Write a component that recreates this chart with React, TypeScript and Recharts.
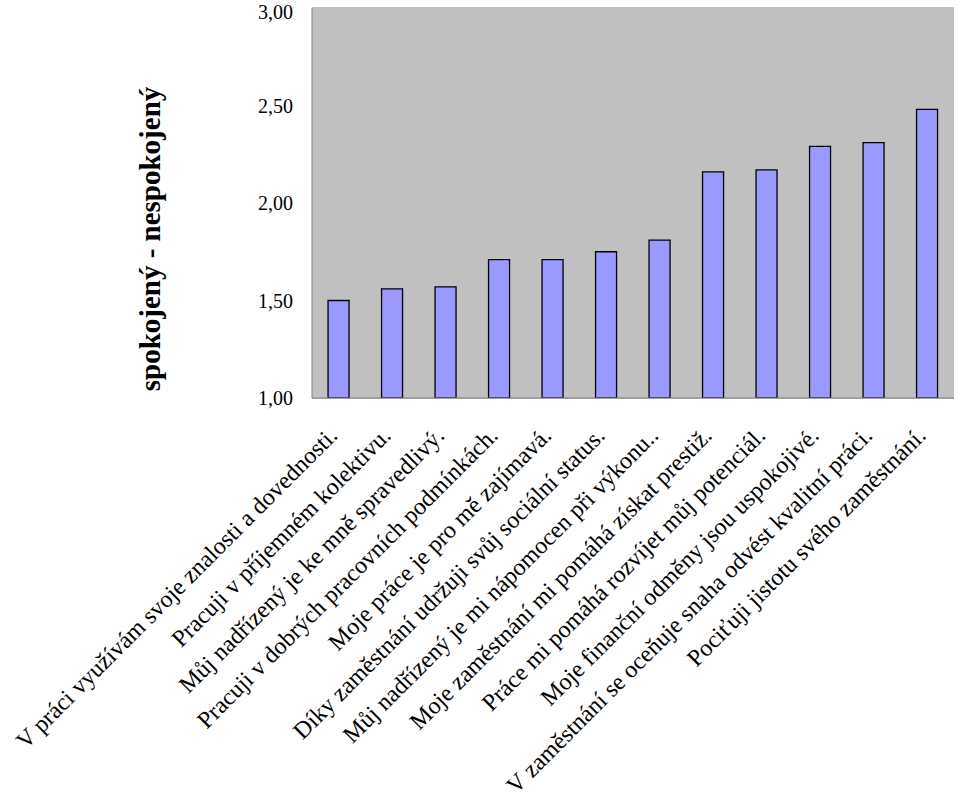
import React from "react";
import { BarChart, Bar, XAxis, YAxis, CartesianGrid } from "recharts";

const statements = [
    "V práci využívám svoje znalosti a dovednosti.",
    "Pracuji v příjemném kolektivu.",
    "Můj nadřízený je ke mně spravedlivý.",
    "Pracuji v dobrých pracovních podmínkách.",
    "Moje práce je pro mě zajímavá.",
    "Díky zaměstnání udržuji svůj sociální status.",
    "Můj nadřízený je mi nápomocen při výkonu..",
    "Moje zaměstnání mi pomáhá získat prestiž.",
    "Práce mi pomáhá rozvíjet můj potenciál.",
    "Moje finanční odměny jsou uspokojivé.",
    "V zaměstnání se oceňuje snaha odvést kvalitní práci.",
    "Pociťuji jistotu svého zaměstnání.",
];

const scores = [1.5, 1.56, 1.57, 1.71, 1.71, 1.75, 1.81, 2.16, 2.17, 2.29, 2.31, 2.48];

const yTicks = [1, 1.5, 2, 2.5, 3];

const data = statements.map((name, i) => ({ name, score: scores[i] }));

const font = "'Liberation Serif', 'Times New Roman', serif";

const App = () => {
    return (
        <div style={{ position: "absolute", left: 0, top: 0, background: "#fff" }}>
            <BarChart
                width={965}
                height={800}
                data={data}
                margin={{ top: 8, right: 11, bottom: 0, left: 0 }}
                barCategoryGap="30%"
            >
                {/* plot area fill */}
                <rect x={312} y={8} width={642} height={390} fill="#c0c0c0" />
                <CartesianGrid vertical={false} stroke="#808080" strokeWidth={1} />
                <XAxis
                    dataKey="name"
                    interval={0}
                    height={402}
                    angle={-45}
                    textAnchor="end"
                    tickSize={0}
                    tickMargin={27}
                    tickLine={false}
                    axisLine={{ stroke: "#808080" }}
                    tick={{ fontSize: 24, fill: "#000", fontFamily: font, dx: -12 }}
                />
                <YAxis
                    width={312}
                    domain={[1, 3]}
                    ticks={yTicks}
                    allowDataOverflow
                    tickSize={0}
                    tickMargin={19}
                    tickLine={false}
                    axisLine={{ stroke: "#808080" }}
                    tickFormatter={(v: number) => v.toFixed(2).replace(".", ",")}
                    tick={{ fontSize: 20, fill: "#000", fontFamily: font }}
                    label={{
                        value: "spokojený - nespokojený",
                        angle: -90,
                        position: "center",
                        dx: -6,
                        dy: 36,
                        style: { fontSize: 29, fontWeight: "bold", fill: "#000", fontFamily: font },
                    }}
                />
                <Bar dataKey="score" fill="#9999ff" stroke="#000" strokeWidth={1.3} isAnimationActive={false} />
            </BarChart>
        </div>
    );
};

export default App;
